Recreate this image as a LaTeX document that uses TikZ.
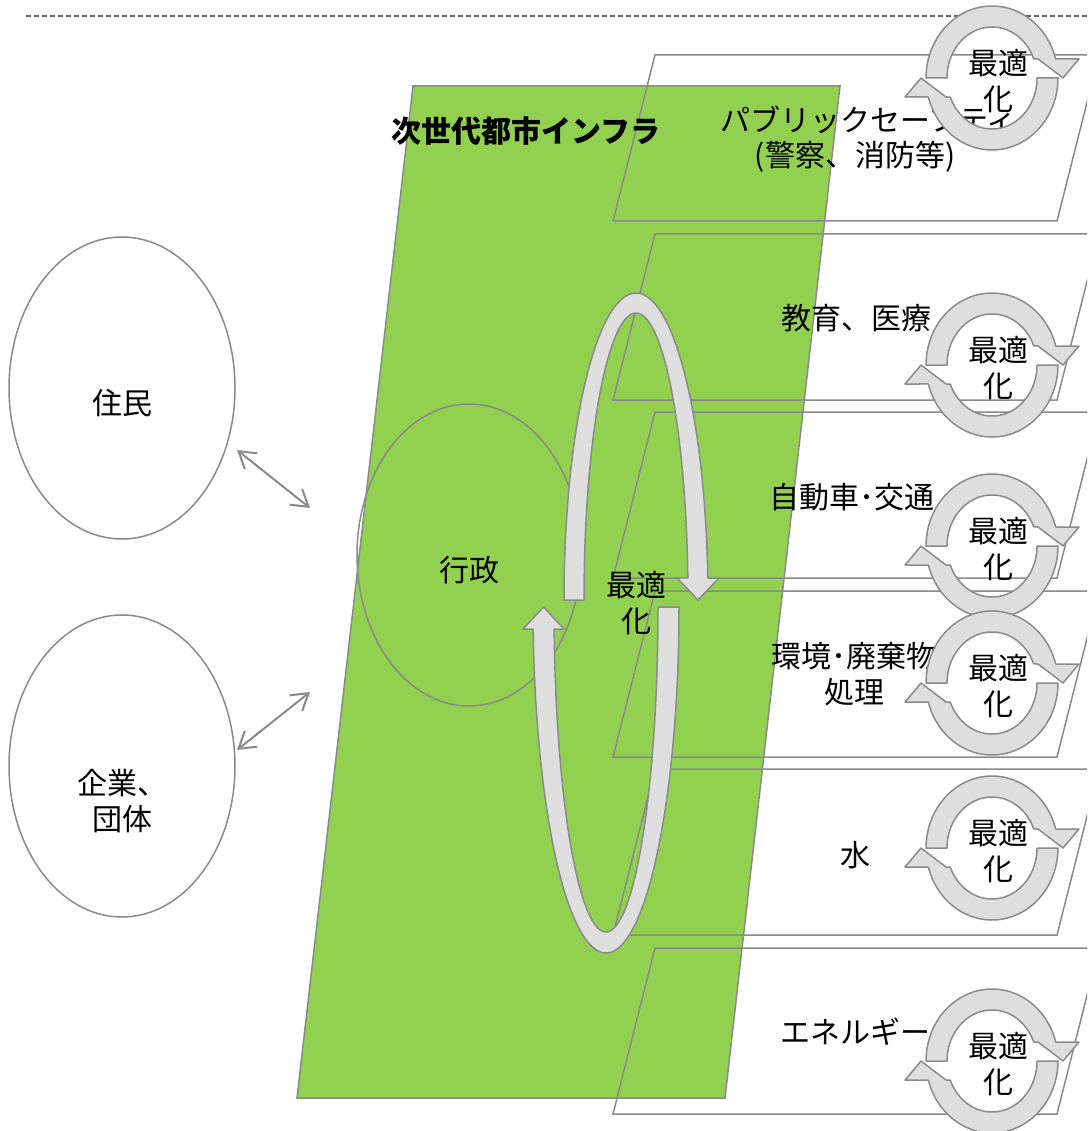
\documentclass[tikz,border=0pt]{standalone}
\usepackage{fontspec}
\setmainfont{Noto Sans CJK JP}
\usetikzlibrary{shapes.geometric,arrows.meta}
\definecolor{lgray}{HTML}{8A8A8A}
\definecolor{afill}{HTML}{DEDEDE}
\definecolor{lgreen}{HTML}{92D050}
\definecolor{dgray}{HTML}{606060}
\newcommand\cyclering[1]{%
  \filldraw[band] plot[domain=180:344.7,samples=50] ({992+66*cos(\x)},{#1+72*sin(\x)})
    -- ({1079},{#1-19}) -- ({1063},{#1}) -- ({1038},{#1-19})
    -- plot[domain=338.1:180,samples=50] ({992+45*cos(\x)},{#1+51*sin(\x)}) -- cycle;
  \filldraw[band] plot[domain=0:164.7,samples=50] ({992+66*cos(\x)},{#1+72*sin(\x)})
    -- ({905},{#1+19}) -- ({921},{#1}) -- ({946},{#1+19})
    -- plot[domain=158.1:0,samples=50] ({992+45*cos(\x)},{#1+51*sin(\x)}) -- cycle;
}
\begin{document}
\begin{tikzpicture}[x=1pt,y=-1pt,
  lbl/.style={font=\fontsize{30}{36.5}\selectfont, inner sep=0pt, align=center, text=black},
  outl/.style={draw=lgray, line width=1.5pt},
  band/.style={fill=afill, draw=lgray, line width=1.5pt, line join=round},
  dbl/.style={draw=lgray, line width=2pt, {Straight Barb[length=16pt,width=20pt]}-{Straight Barb[length=16pt,width=20pt]}},
  bubble/.style={ellipse, draw=lgray, line width=1.5pt, inner sep=0pt, minimum width=226pt, minimum height=302pt},
]
\clip (0,0) rectangle (1087,1131);
\fill[white] (0,0) rectangle (1087,1131);
% dashed top line
\draw[dgray, line width=1.5pt, dash pattern=on 5pt off 3pt] (26,16) -- (1087,16);
% green parallelogram
\filldraw[fill=lgreen, draw=lgray, line width=1.5pt] (413,86) -- (840,86) -- (725,1098) -- (297,1098) -- cycle;
% ellipses
\node[bubble] (jumin) at (122,388) {};
\node[bubble] (kigyo) at (122,766) {};
\node[bubble, minimum width=224pt] (gyosei) at (469,555) {};
% parallelograms
\foreach \t in {55,234,412,591,769,948}
  \draw[outl] (655,\t) -- (1099,\t) -- ({1057},{\t+166}) -- ({613},{\t+166}) -- cycle;
% texts
\node[lbl] (tjumin) at (122,403) {住民};
\node[lbl] (tkigyo) at (122,801) {企業、\\団体};
\node[lbl] (tgyosei) at (469,570) {行政};
\node[lbl, font=\fontsize{30}{36.5}\selectfont\bfseries] (title) at (526,131) {次世代都市インフラ};
\node[lbl, anchor=west] (ps1) at (720,120) {パブリックセーフティ};
\node[lbl] (ps2) at (855,157) {(警察、消防等)};
\node[lbl] (edu) at (856,318) {教育、医療};
\node[lbl] (car) at (852,497) {自動車･交通};
\node[lbl] (env) at (854,674) {環境･廃棄物\\処理};
\node[lbl] (water) at (855,855) {水};
\node[lbl] (energy) at (855,1032) {エネルギー};
% double arrows
\coordinate (a1) at (237,450);
\coordinate (b1) at (310,508);
\coordinate (a2) at (310,692);
\coordinate (b2) at (237,750);
\draw[dbl] (a1) -- (b1);
\draw[dbl] (a2) -- (b2);
% big cycle
\filldraw[band] plot[domain=180:355.9,samples=90] ({636+72*cos(\x)},{600+307*sin(\x)})
  -- (719,578) -- (698,600) -- (677,578)
  -- plot[domain=355.6:180,samples=90] ({636+52*cos(\x)},{600+287*sin(\x)}) -- cycle;
\filldraw[band] plot[domain=0:176.35,samples=90] ({606+73*cos(\x)},{607+346*sin(\x)})
  -- (523,629) -- (543.5,607) -- (564,629)
  -- plot[domain=176.1:0,samples=90] ({606+52*cos(\x)},{607+325*sin(\x)}) -- cycle;
\node[lbl] (bigopt) at (636,603) {最適\\化};
% small cycles
\foreach \c/\n in {78/r1,365/r2,546/r3,683/r4,848/r5,1061/r6}{
  \cyclering{\c}
  \node[lbl] (\n) at (998,{\c+3}) {最適\\化};
}
\end{tikzpicture}
\end{document}
